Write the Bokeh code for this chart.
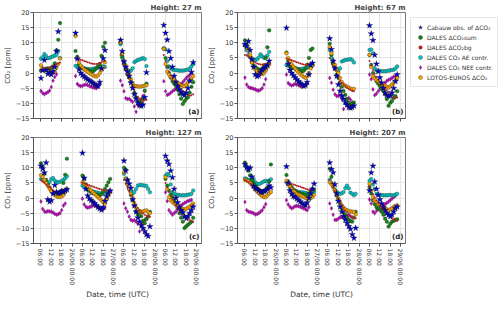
import numpy as np
from bokeh.plotting import figure
from bokeh.models import (ColumnDataSource, FixedTicker, Legend, LegendItem,
                          Label, Range1d, CustomLabelingPolicy)
from bokeh.layouts import column, row
from bokeh.embed import file_html
from bokeh.resources import INLINE

nan = float("nan")

# ---------------- x ticks (hours since 25/06 00:00 UTC) ----------------
TICKS = [6, 12, 18, 24, 30, 36, 42, 48, 54, 60, 66, 72, 78, 84, 90, 96]
TICK_LABELS = ["06:00", "12:00", "18:00", "26/06 00:00",
               "06:00", "12:00", "18:00", "27/06 00:00",
               "06:00", "12:00", "18:00", "28/06 00:00",
               "06:00", "12:00", "18:00", "29/06 00:00"]
YTICKS = [-15, -10, -5, 0, 5, 10, 15, 20]
YTICK_LABELS = ["\u221215", "\u221210", "\u22125", "0", "5", "10", "15", "20"]

TITLES = ["Height: 27 m", "Height: 67 m", "Height: 127 m", "Height: 207 m"]
LETTERS = ["(a)", "(b)", "(c)", "(d)"]

# ---------------- panel (a) 27 m ----------------
H_A = [6, 7, 8, 9, 10, 11, 12, 13, 14, 15, 16, 17,
       26, 27, 28, 29, 30, 31, 32, 33, 34, 35, 36, 37, 38, 39, 40, 41, 42, 43,
       52, 53, 54, 55, 56, 57, 58, 59, 60, 61, 62, 63, 64, 65, 66, 67,
       77, 78, 79, 80, 81, 82, 83, 84, 85, 86, 87, 88, 89, 90, 91, 92, 93, 94]
OBS_A = [-1.7, 0.9, 4.3, 1.0, -0.3, 0.2, -0.5, 0.5, 2.0, 7.2, 13.7, nan,
         13.2, 4.7, 1.2, 0.0, -0.7, -1.2, -1.7, -2.1, -2.5, -2.9, -3.3, -3.7, -4.1, -4.3, -3.0, 1.5, 4.8, 7.5,
         10.9, 7.2, 3.8, 2.0, 0.5, -1.0, -3.2, -5.0, -7.0, -8.5, -9.8, -10.7, -10.9, -10.5, -8.0, 0.2,
         15.8, 13.2, 11.0, 7.2, 4.9, 2.0, -1.0, -3.0, -4.3, -5.5, -6.3, -7.0, -7.3, -6.5, -5.0, -2.5, 0.3, 3.5]
SUM_A = [0.8, 1.2, 1.4, 1.0, 1.6, 1.2, 1.8, 2.2, 3.2, 7.5, 11.0, 16.5,
         7.3, 5.4, 2.8, 2.2, 1.6, 1.4, 1.2, 1.0, 0.8, 0.6, 0.5, 1.0, 1.6, 2.2, 3.0, 5.7, 8.7, 10.0,
         10.0, 5.5, 3.0, 1.2, -0.5, -1.5, -2.8, -4.5, -6.5, -8.0, -9.2, -9.5, -10.0, -8.5, -5.8, -3.5,
         8.2, 5.0, 2.0, 0.0, -1.5, -2.7, -3.5, -4.3, -5.5, -7.0, -8.5, -10.2, -9.3, -8.5, -8.0, -6.5, -4.5, -3.0]
BG_A = [1.0, 1.2, 1.3, 1.5, 1.6, 1.8, 2.0, 2.3, 2.6, 2.9, 3.2, 3.5,
        4.9, 4.8, 4.6, 4.4, 4.2, 4.0, 3.8, 3.6, 3.4, 3.2, 3.1, 3.0, 3.0, 3.1, 3.3, 3.6, 3.9, 4.1,
        6.0, 4.0, 2.5, 1.0, -0.5, -1.8, -3.0, -4.2, -5.5, -6.8, -7.8, -8.5, -9.0, -9.2, -9.0, -8.8,
        6.0, 4.0, 2.0, 0.5, -0.8, -1.8, -2.6, -3.3, -4.0, -4.7, -5.3, -5.8, -6.3, -6.8, -7.2, -7.5, -7.3, -7.0]
AE_A = [4.7, 5.3, 6.3, 5.6, 4.9, 5.0, 5.3, 5.5, 5.8, 6.0, 7.3, 5.0,
        2.4, 2.2, 2.1, 2.0, 1.8, 1.6, 1.4, 1.3, 1.2, 1.3, 1.4, 1.5, 1.6, 1.8, 2.0, 2.1, 2.2, 2.0,
        9.5, 5.0, 3.2, 2.0, 1.0, 0.5, 0.8, 1.6, 3.6, 4.0, 4.3, 4.5, 4.7, 5.0, 4.6, 2.3,
        8.0, 7.8, 4.0, 2.2, 1.6, 1.2, 1.0, 1.0, 0.9, 0.8, 0.8, 0.8, 0.9, 1.0, 1.2, 1.5, 2.2, 3.0]
NEE_A = [-5.9, -6.6, -7.0, -6.6, -6.3, -5.8, -4.6, -2.5, -1.3, -0.4, nan, nan,
         -1.0, -3.6, -4.1, -4.3, -4.2, -3.9, -3.8, -4.0, -4.3, -4.5, -4.7, -4.9, -5.0, -4.6, -3.8, nan, nan, nan,
         -2.5, -4.0, -6.0, -8.3, -8.6, -8.5, -9.0, -9.5, -11.0, -12.8, -10.5, -9.5, -8.5, -7.5, -6.0, nan,
         -2.7, -6.0, -7.2, -7.0, -6.5, -6.0, -5.6, -5.2, -4.8, -4.2, -3.6, -3.0, -2.3, -1.6, -1.1, -0.6, 0.0, nan]
LE_A = [2.6, 1.6, 1.2, 1.0, 0.8, 0.6, 0.4, 0.2, 0.5, 1.8, 3.0, 4.8,
        12.2, 5.0, 3.5, 2.5, 1.8, 1.2, 0.8, 0.4, 0.0, -0.4, -0.7, -1.0, -1.2, -0.8, 0.0, 1.0, 1.8, 3.5,
        10.2, 6.5, 4.0, 2.5, 1.0, -0.5, -2.0, -3.5, -4.2, -4.3, -4.4, -4.5, -4.4, -4.3, -4.2, -4.0,
        8.0, 3.0, 0.5, -0.5, -1.2, -1.8, -2.3, -2.8, -3.2, -3.6, -4.0, -4.3, -4.3, -3.8, -3.2, -2.5, -1.8, -1.0]

# ---------------- panel (b) 67 m ----------------
H_B = [6, 7, 8, 9, 10, 11, 12, 13, 14, 15, 16, 17, 18, 19, 20,
       30, 31, 32, 33, 34, 35, 36, 37, 38, 39, 40, 41, 42, 43, 44, 45,
       55, 56, 57, 58, 59, 60, 61, 62, 63, 64, 65, 66, 67, 68, 69,
       78, 79, 80, 81, 82, 83, 84, 85, 86, 87, 88, 89, 90, 91, 92, 93, 94]
OBS_B = [9.5, 8.8, 10.5, 7.5, 4.5, 2.0, -0.5, -1.1, -0.8, 0.3, 1.0, 1.5, 2.0, 2.7, 4.0,
         14.9, 3.0, 1.0, 0.0, -0.8, -1.5, -2.2, -2.8, -3.4, -3.8, -4.3, -4.0, -3.0, -0.5, 2.7, 3.3,
         11.4, 7.8, 4.0, 1.6, -1.0, -3.8, -5.9, -7.5, -8.6, -9.7, -10.5, -11.3, -11.5, -11.3, -10.8,
         15.7, 13.0, 10.8, 6.0, 3.0, 0.5, -1.5, -3.2, -5.0, -6.5, -7.3, -7.6, -7.5, -6.5, -5.0, -2.7, -0.5]
SUM_B = [10.8, 9.5, 8.0, 5.5, 3.5, 2.5, 2.0, 1.5, 1.2, 1.0, 1.5, 2.5, 5.0, 8.5, 14.1,
         6.8, 4.0, 2.5, 2.0, 1.8, 1.5, 1.2, 1.0, 0.8, 0.5, 0.8, 1.5, 2.8, 5.0, 7.6, 8.1,
         9.7, 6.0, 3.0, 1.6, -0.5, -1.6, -3.2, -4.5, -5.9, -7.2, -8.6, -9.8, -10.8, -10.2, -9.7,
         6.0, 2.7, 0.0, -1.5, -2.7, -3.5, -4.3, -5.2, -5.9, -7.0, -8.6, -10.8, -9.8, -9.2, -8.2, -7.6, -6.0]
BG_B = [6.0, 5.8, 5.5, 5.0, 4.5, 4.0, 3.5, 3.2, 3.0, 2.8, 2.8, 2.9, 3.0, 3.2, 3.5,
        4.8, 4.6, 4.4, 4.2, 4.0, 3.8, 3.6, 3.4, 3.2, 3.0, 2.8, 2.7, 2.8, 3.0, 3.2, 3.4,
        5.0, 3.5, 2.2, 1.0, -0.5, -1.5, -2.5, -3.2, -3.8, -4.3, -4.8, -5.2, -5.6, -5.9, -6.0,
        4.0, 2.5, 1.0, -0.2, -1.3, -2.2, -3.0, -3.7, -4.4, -5.0, -5.6, -6.2, -6.8, -7.4, -8.0, -8.3, -8.1]
AE_B = [9.0, 7.5, 6.0, 5.2, 4.8, 4.5, 4.2, 4.6, 5.2, 6.2, 5.5, 5.0, 5.3, 5.8, 7.0,
        2.6, 2.4, 2.2, 2.0, 1.8, 1.6, 1.5, 1.3, 1.3, 1.4, 1.5, 1.6, 1.8, 2.0, 2.2, 2.4,
        7.6, 5.0, 3.0, 1.8, 1.0, 0.8, 1.6, 3.8, 4.1, 4.3, 4.4, 4.5, 4.6, 4.3, 3.5,
        7.6, 7.8, 6.5, 1.6, 0.9, 0.8, 0.7, 0.6, 0.6, 0.6, 0.7, 0.8, 0.9, 1.0, 1.1, 1.5, 2.2]
NEE_B = [-1.5, -3.8, -4.6, -4.9, -5.0, -5.2, -5.4, -5.7, -5.8, -5.5, -5.0, -3.8, -2.0, nan, nan,
         -0.5, -3.3, -3.8, -4.1, -3.9, -3.6, -3.8, -4.0, -4.3, -4.5, -4.3, -4.0, -3.5, nan, nan, nan,
         -1.6, -3.2, -5.5, -7.0, -7.6, -7.5, -7.2, -8.5, -11.9, -10.0, -8.6, -8.2, -8.8, -9.7, nan,
         -0.5, -2.0, -5.4, -7.3, -6.8, -6.0, -5.3, -4.6, -3.9, -3.2, -2.6, -2.2, -2.0, -1.6, -1.2, -1.0, nan]
LE_B = [9.3, 8.5, 7.5, 6.0, 3.5, 2.0, 1.2, 0.6, 0.2, -0.2, -0.4, 0.0, 0.8, 2.0, 2.8,
        6.5, 5.0, 4.0, 3.0, 2.2, 1.5, 0.8, 0.2, -0.3, -0.8, -1.3, -1.6, -1.0, 0.0, 1.5, 2.7,
        8.6, 6.5, 4.0, 2.7, 1.0, 0.0, -1.6, -3.0, -3.8, -4.2, -4.5, -4.8, -5.1, -5.4, -5.2,
        6.0, 2.0, -1.1, -1.8, -2.3, -2.7, -3.2, -3.6, -3.9, -4.2, -4.5, -4.8, -4.4, -3.8, -3.2, -2.5, -1.6]

# ---------------- panel (c) 127 m ----------------
H_C = [6, 7, 8, 9, 10, 11, 12, 13, 14, 15, 16, 17, 18, 19, 20, 21,
       30, 31, 32, 33, 34, 35, 36, 37, 38, 39, 40, 41, 42, 43, 44, 45, 46,
       54, 55, 56, 57, 58, 59, 60, 61, 62, 63, 64, 65, 66, 67, 68, 69,
       78, 79, 80, 81, 82, 83, 84, 85, 86, 87, 88, 89, 90, 91, 92, 93, 94]
OBS_C = [10.6, 9.7, 8.4, 11.7, -0.5, -1.2, -0.8, 1.5, 4.2, 2.0, 1.6, 1.8, 2.2, 2.0, 2.5, 2.8,
         14.9, 6.6, 3.0, 0.8, -0.2, -0.8, -1.3, -1.8, -2.4, -3.0, -3.5, -3.9, -3.0, -1.0, 0.5, 1.6, 2.4,
         12.3, 9.0, 6.0, 4.7, 3.3, -0.5, -2.5, -4.5, -6.5, -7.8, -9.0, -10.0, -11.0, -12.0, -12.6, -9.4,
         13.9, 12.3, 11.2, 9.0, 6.8, 3.0, 0.0, -1.5, -3.0, -4.0, -4.8, -6.1, -6.7, -6.0, -5.0, -4.0, -2.9]
SUM_C = [11.5, 10.4, 8.0, 6.0, 4.5, 3.5, 2.5, 1.8, 1.2, 1.0, 1.2, 1.5, 2.5, 5.0, 7.7, 13.0,
         7.4, 6.3, 4.5, 3.1, 2.4, 1.9, 1.6, 1.4, 1.2, 0.9, 0.9, 1.3, 2.2, 3.0, 4.1, 5.2, 6.3,
         10.0, 9.4, 6.0, 3.1, 1.0, -0.7, -2.5, -4.5, -5.5, -5.0, -6.0, -7.5, -8.3, -7.0, -6.1, -4.5,
         6.3, 4.1, 2.5, 1.2, 0.3, -0.8, -1.8, -3.2, -5.0, -6.5, -7.8, -9.9, -9.3, -8.8, -8.3, -7.8, -6.5]
BG_C = [6.0, 5.5, 5.0, 4.5, 4.0, 3.5, 3.0, 2.6, 2.2, 2.0, 1.8, 1.8, 2.0, 2.3, 2.6, 3.0,
        5.1, 4.8, 4.6, 4.4, 4.2, 4.0, 3.8, 3.6, 3.4, 3.2, 3.0, 2.8, 2.6, 2.5, 2.5, 2.6, 2.8,
        6.0, 4.8, 3.5, 2.2, 1.0, -0.2, -1.3, -2.4, -3.3, -4.0, -4.6, -5.1, -5.5, -5.8, -6.0, -6.2,
        5.0, 3.5, 2.0, 0.8, -0.5, -1.5, -2.4, -3.2, -4.0, -4.7, -5.3, -5.9, -6.4, -6.9, -7.3, -7.6, -7.8]
AE_C = [6.3, 6.0, 5.6, 5.2, 5.0, 5.3, 6.3, 6.6, 5.8, 5.2, 5.2, 5.4, 5.6, 6.0, 6.5, 7.2,
        4.1, 3.6, 3.1, 2.7, 2.5, 2.3, 2.2, 2.0, 1.9, 1.7, 1.6, 1.5, 1.5, 1.6, 1.7, 1.9, 2.2,
        8.0, 6.5, 4.5, 3.0, 2.0, 1.5, 2.0, 3.0, 4.1, 4.3, 4.3, 4.2, 4.1, 4.0, 3.0, 1.9,
        7.4, 8.0, 7.4, 4.5, 1.9, 1.4, 1.2, 1.1, 1.0, 0.9, 0.9, 0.9, 1.0, 1.1, 1.2, 1.4, 2.5]
NEE_C = [-1.1, -3.6, -4.4, -4.6, -4.3, -4.4, -4.5, -4.8, -5.2, -5.5, -5.3, -5.0, -4.0, -2.5, -1.8, nan,
         -0.2, -2.1, -2.9, -3.2, -3.0, -2.8, -2.5, -2.4, -2.6, -2.9, -3.2, -3.5, -3.7, -3.2, nan, nan, nan,
         -1.8, -3.4, -4.5, -6.1, -7.2, -7.5, -7.3, -7.8, -8.5, -11.0, -9.0, -8.0, -7.2, -6.7, -6.0, nan,
         1.9, -1.0, -4.0, -4.8, -5.5, -5.0, -4.5, -3.8, -3.0, -2.4, -2.0, -1.6, -1.3, -1.0, -0.8, -0.6, nan]
LE_C = [7.6, 7.0, 6.0, 5.0, 4.0, 3.0, 2.2, 1.5, 1.0, 0.6, 0.3, 0.3, 0.5, 1.0, 2.0, 3.0,
        5.2, 4.7, 4.1, 3.6, 3.0, 2.5, 1.9, 1.4, 0.8, 0.3, -0.2, -0.8, -1.3, -1.8, -0.5, 0.8, 1.9,
        8.5, 6.3, 4.5, 3.0, 1.4, 0.0, -1.8, -3.2, -4.0, -4.3, -4.5, -4.4, -4.2, -4.0, -4.6, -5.0,
        6.9, 3.0, 0.3, -0.8, -1.3, -1.8, -2.3, -2.9, -3.2, -3.4, -3.6, -3.7, -3.5, -3.2, -2.8, -2.3, -1.8]

# ---------------- panel (d) 207 m ----------------
H_D = [6, 7, 8, 9, 10, 11, 12, 13, 14, 15, 16, 17, 18, 19, 20, 21,
       30, 31, 32, 33, 34, 35, 36, 37, 38, 39, 40, 41, 42, 43, 44, 45, 46,
       55, 56, 57, 58, 59, 60, 61, 62, 63, 64, 65, 66, 67, 68, 69, 70,
       78, 79, 80, 81, 82, 83, 84, 85, 86, 87, 88, 89, 90, 91, 92, 93, 94]
OBS_D = [11.1, 10.0, 9.5, 10.0, 7.0, 4.0, 3.2, 3.0, 2.5, 2.0, 1.9, 2.2, 2.5, 3.0, 4.1, 3.5,
         10.4, 5.0, 2.5, 1.4, 0.6, 0.3, -0.2, -0.7, -1.2, -1.8, -2.2, -2.4, -1.5, 0.0, 1.5, 3.0, 4.7,
         11.7, 9.5, 8.4, 4.5, 1.5, -1.0, -2.9, -4.5, -6.0, -7.2, -8.3, -9.3, -10.2, -12.0, -13.2, -9.9,
         2.5, 8.4, 10.6, 5.4, 3.0, 1.0, -0.5, -1.8, -3.0, -4.0, -5.0, -5.6, -6.1, -5.5, -4.5, -3.4, -2.9]
SUM_D = [11.7, 10.5, 9.0, 7.5, 6.0, 5.0, 4.0, 3.2, 2.6, 2.2, 2.0, 2.2, 2.6, 3.5, 5.5, 11.1,
         7.6, 5.5, 4.2, 3.6, 2.8, 2.2, 1.9, 1.7, 1.5, 1.4, 1.2, 1.0, 0.9, 1.5, 2.5, 3.0, 2.8,
         9.7, 7.0, 4.5, 2.5, 0.8, -0.2, -1.8, -3.5, -4.8, -5.6, -6.5, -7.2, -7.6, -7.8, -6.5, -4.5,
         3.6, 1.5, -0.7, -2.0, -3.0, -3.4, -3.9, -4.5, -5.5, -6.8, -7.8, -9.4, -8.5, -7.8, -7.5, -7.2, -7.0]
BG_D = [6.0, 5.6, 5.2, 4.8, 4.4, 4.0, 3.6, 3.3, 3.0, 2.8, 2.6, 2.6, 2.7, 2.9, 3.1, 3.3,
        5.2, 5.0, 4.8, 4.7, 4.5, 4.3, 4.1, 3.9, 3.7, 3.5, 3.3, 3.1, 2.9, 2.7, 2.5, 2.6, 2.8,
        6.0, 4.8, 3.5, 2.3, 1.0, -0.2, -1.3, -2.4, -3.2, -4.0, -4.7, -5.3, -5.8, -6.2, -6.5, -6.7,
        4.0, 2.6, 1.3, 0.2, -0.8, -1.7, -2.5, -3.2, -3.9, -4.5, -5.1, -5.6, -6.1, -6.6, -7.0, -7.3, -7.5]
AE_D = [6.5, 6.3, 6.0, 5.8, 5.7, 6.3, 5.2, 4.7, 4.6, 4.8, 5.2, 5.5, 5.7, 5.4, 5.8, 6.2,
        5.2, 4.5, 3.6, 3.1, 2.7, 2.5, 2.2, 2.0, 1.9, 1.9, 1.8, 1.7, 1.5, 1.4, 1.3, 1.6, 2.0,
        6.0, 5.0, 3.8, 2.8, 2.0, 1.6, 1.4, 1.6, 2.0, 3.3, 4.1, 3.2, 1.8, 1.4, 0.9, 1.4,
        5.7, 6.3, 4.5, 3.0, 1.4, 1.2, 1.1, 1.0, 0.9, 0.9, 0.9, 1.0, 1.0, 0.9, 0.9, 1.2, 1.4]
NEE_D = [-1.3, -4.0, -4.5, -4.6, -4.8, -5.0, -5.4, -5.3, -5.0, -4.5, -4.0, -3.0, -2.0, nan, nan, nan,
         -0.7, -2.1, -2.9, -3.4, -3.1, -2.7, -2.6, -2.7, -2.9, -3.2, -3.4, -3.7, -4.0, -3.0, nan, nan, nan,
         -1.8, -3.4, -5.5, -7.2, -7.2, -6.8, -6.4, -6.2, -6.4, -6.2, -5.8, -5.6, -6.0, -6.4, nan, nan,
         -0.5, -1.8, -4.5, -5.0, -4.2, -3.6, -3.2, -2.8, -2.4, -2.0, -1.6, -1.2, -0.7, -0.2, 0.3, 0.8, nan]
LE_D = [6.0, 5.8, 5.5, 5.0, 4.3, 3.6, 2.8, 2.2, 1.6, 1.1, 0.6, 0.3, 0.3, 0.9, 1.5, 2.0,
        5.7, 4.7, 3.8, 3.0, 2.4, 1.9, 1.4, 1.1, 0.9, 0.6, 0.3, 0.0, -0.2, -0.2, 0.0, 0.3, 1.0,
        5.2, 4.5, 3.5, 2.5, 1.2, -0.2, -1.4, -2.4, -3.1, -3.7, -4.0, -4.2, -4.4, -4.5, -4.6, -5.4,
        4.7, 2.5, 0.3, -0.7, -1.3, -1.8, -2.3, -2.9, -3.2, -3.4, -3.7, -4.0, -3.7, -3.4, -2.9, -2.6, -2.4]

PANELS = [
    (H_A, OBS_A, SUM_A, BG_A, AE_A, NEE_A, LE_A),
    (H_B, OBS_B, SUM_B, BG_B, AE_B, NEE_B, LE_B),
    (H_C, OBS_C, SUM_C, BG_C, AE_C, NEE_C, LE_C),
    (H_D, OBS_D, SUM_D, BG_D, AE_D, NEE_D, LE_D),
]

LEGEND_LABELS = ["Cabauw obs. of \u0394CO\u2082", "DALES \u0394CO\u2082sum",
                 "DALES \u0394CO\u2082bg", "DALES CO\u2082 AE contr.",
                 "DALES CO\u2082 NEE contr.", "LOTOS-EUROS \u0394CO\u2082"]

FONT = "DejaVu Sans"
FW, FH = 168, 106

HIDE_LABELS = CustomLabelingPolicy(code="""
for (const i of Array.from(indices.ones())) { indices.unset(i) }
return indices
""")


def make_panel(i, show_xlabels):
    h, obs, s, bg, ae, nee, le = PANELS[i]
    for arr in (obs, s, bg, ae, nee, le):
        assert len(arr) == len(h), (i, len(arr), len(h))
    src = ColumnDataSource(dict(h=np.array(h, float), obs=np.array(obs, float),
                                s=np.array(s, float), bg=np.array(bg, float),
                                ae=np.array(ae, float), nee=np.array(nee, float),
                                le=np.array(le, float)))
    p = figure(frame_width=FW, frame_height=FH,
               x_range=Range1d(1.7, 98.8), y_range=Range1d(-15, 20),
               output_backend="svg", toolbar_location=None,
               min_border_left=20, min_border_right=3,
               min_border_top=0 if i < 2 else 10,
               min_border_bottom=6)
    p.title.text = TITLES[i]
    p.title.align = "right"
    p.title.text_font = FONT
    p.title.text_font_size = "7px"
    p.title.text_font_style = "bold"
    p.title.standoff = 2

    p.outline_line_color = "#555555"
    p.outline_line_width = 0.8
    p.xgrid.ticker = FixedTicker(ticks=TICKS)
    p.ygrid.ticker = FixedTicker(ticks=YTICKS)
    p.grid.grid_line_color = "#e0e0e0"
    p.grid.grid_line_width = 0.8

    xa = p.xaxis[0]
    xa.ticker = FixedTicker(ticks=TICKS)
    xa.axis_line_color = "#555555"
    xa.major_tick_line_color = "#555555"
    xa.major_tick_out = 3
    xa.major_tick_in = 0
    xa.minor_tick_line_color = None
    if show_xlabels:
        xa.major_label_overrides = {t: lab for t, lab in zip(TICKS, TICK_LABELS)}
        xa.major_label_orientation = "vertical"
        xa.major_label_text_font = FONT
        xa.major_label_text_font_size = "6px"
        xa.major_label_text_color = "#333333"
        xa.major_label_standoff = 2
        xa.axis_label = "Date, time (UTC)"
        xa.axis_label_text_font = FONT
        xa.axis_label_text_font_size = "7.5px"
        xa.axis_label_text_font_style = "normal"
        xa.axis_label_text_color = "#333333"
        xa.axis_label_standoff = 2
    else:
        xa.major_label_policy = HIDE_LABELS
        xa.major_label_text_font_size = "1px"
        xa.major_label_standoff = 0

    ya = p.yaxis[0]
    ya.ticker = FixedTicker(ticks=YTICKS)
    ya.major_label_overrides = {t: lab for t, lab in zip(YTICKS, YTICK_LABELS)}
    ya.axis_line_color = "#555555"
    ya.major_tick_line_color = "#555555"
    ya.major_tick_out = 3
    ya.major_tick_in = 0
    ya.minor_tick_line_color = None
    ya.major_label_text_font = FONT
    ya.major_label_text_font_size = "6.5px"
    ya.major_label_text_color = "#333333"
    ya.major_label_standoff = 1
    ya.axis_label = "CO\u2082 [ppm]"
    ya.axis_label_text_font = FONT
    ya.axis_label_text_font_size = "7px"
    ya.axis_label_text_font_style = "normal"
    ya.axis_label_text_color = "#333333"
    ya.axis_label_standoff = 1

    r_nee = p.scatter("h", "nee", source=src, marker="diamond", size=4.2,
                      fill_color="#bf00bf", line_color="#333333", line_width=0.3)
    r_ae = p.scatter("h", "ae", source=src, marker="circle", size=3.6,
                     fill_color="#00c8c8", line_color="#222222", line_width=0.35)
    r_sum = p.scatter("h", "s", source=src, marker="circle", size=3.6,
                      fill_color="#118811", line_color="#222222", line_width=0.35)
    r_le = p.scatter("h", "le", source=src, marker="circle", size=3.6,
                     fill_color="#ffa500", line_color="#222222", line_width=0.35)
    r_bg = p.scatter("h", "bg", source=src, marker="circle", size=2.0,
                     fill_color="#b22222", line_color=None)
    r_obs = p.scatter("h", "obs", source=src, marker="star", size=6.5,
                      fill_color="#0000dd", line_color="#111111", line_width=0.35)

    p.add_layout(Label(x=97.6, y=-14.3, text=LETTERS[i], text_align="right",
                       text_baseline="bottom", text_font=FONT,
                       text_font_size="7px", text_font_style="bold",
                       text_color="#222222"))
    return p, [r_obs, r_sum, r_bg, r_ae, r_nee, r_le]


pa, _ = make_panel(0, False)
pb, rends = make_panel(1, False)
pc, _ = make_panel(2, True)
pd, _ = make_panel(3, True)

legend = Legend(items=[LegendItem(label=lab, renderers=[r])
                       for lab, r in zip(LEGEND_LABELS, rends)],
                location="top_left")
legend.label_text_font = FONT
legend.label_text_font_size = "6px"
legend.label_text_color = "#333333"
legend.glyph_width = 10
legend.glyph_height = 10
legend.label_height = 8
legend.spacing = -2
legend.padding = 4
legend.margin = 5
legend.label_standoff = 2
legend.border_line_color = "#cccccc"
legend.border_line_width = 0.8
legend.background_fill_color = "white"
pb.add_layout(legend, "right")

layout = column(row(pa, pb), row(pc, pd), spacing=0)
open("out.html", "w").write(file_html(layout, INLINE))
